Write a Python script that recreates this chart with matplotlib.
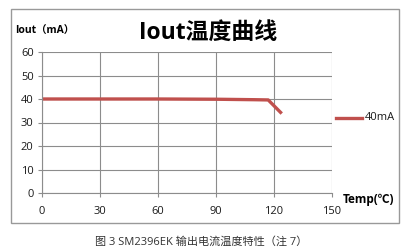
import matplotlib
matplotlib.use("Agg")
import matplotlib.pyplot as plt
from matplotlib.patches import Rectangle
from matplotlib.lines import Line2D

plt.rcParams['font.family'] = ['Open Sans', 'Noto Sans CJK SC', 'DejaVu Sans']

# Output current versus temperature
temp_c = [0, 30, 60, 90, 110, 117, 124]
iout_ma = [40, 40, 40, 39.9, 39.7, 39.6, 33.8]
series_label = "40mA"
x_ticks = [0, 30, 60, 90, 120, 150]
y_ticks = [0, 10, 20, 30, 40, 50, 60]

W, H = 404, 252
fig = plt.figure(figsize=(W / 100, H / 100), dpi=100)

# plot area in pixel coordinates
left, right, top, bottom = 42, 332, 52, 193
ax = fig.add_axes([left / W, 1 - bottom / H, (right - left) / W, (bottom - top) / H])

line_color = '#C0504D'
grid_color = '#8C8C8C'

ax.plot(temp_c, iout_ma, color=line_color, lw=2.4, solid_capstyle='butt')
ax.set_xlim(0, 150)
ax.set_ylim(0, 60)
ax.set_xticks(x_ticks)
ax.set_yticks(y_ticks)
ax.grid(True, color=grid_color, lw=0.8)
ax.set_axisbelow(True)
for s in ['top', 'right']:
    ax.spines[s].set_visible(False)
for s in ['left', 'bottom']:
    ax.spines[s].set_color(grid_color)
    ax.spines[s].set_linewidth(0.8)
ax.tick_params(axis='both', length=3, width=0.8, color=grid_color,
               labelsize=8, labelcolor='#1a1a1a', pad=3)
ax.tick_params(axis='x', pad=6)

# outer chart frame
fig.add_artist(Rectangle((11 / W, 1 - 223 / H), (399 - 11) / W, (223 - 9) / H,
                         transform=fig.transFigure, fill=False,
                         edgecolor='#999999', lw=1.0))

fig.text(208 / W, 1 - 33 / H, "Iout温度曲线", ha='center', va='center',
         fontsize=16.5, fontweight='bold', color='black')
fig.text(15 / W, 1 - 31 / H, "Iout（mA）", ha='left', va='center',
         fontsize=7.5, fontweight='bold', color='black')
fig.text(343 / W, 1 - 200 / H, "Temp(℃)", ha='left', va='center',
         fontsize=8.5, fontweight='bold', color='black')

# legend
fig.add_artist(Line2D([336 / W, 362 / W], [1 - 118 / H, 1 - 118 / H],
                      transform=fig.transFigure, color=line_color, lw=2.4))
fig.text(365 / W, 1 - 118 / H, series_label, ha='left', va='center',
         fontsize=8, color='#1a1a1a')

fig.text(201 / W, 1 - 242 / H, "图 3 SM2396EK 输出电流温度特性（注 7）",
         ha='center', va='center', fontsize=8, color='#333333')

fig.savefig("out.png", dpi=100)
